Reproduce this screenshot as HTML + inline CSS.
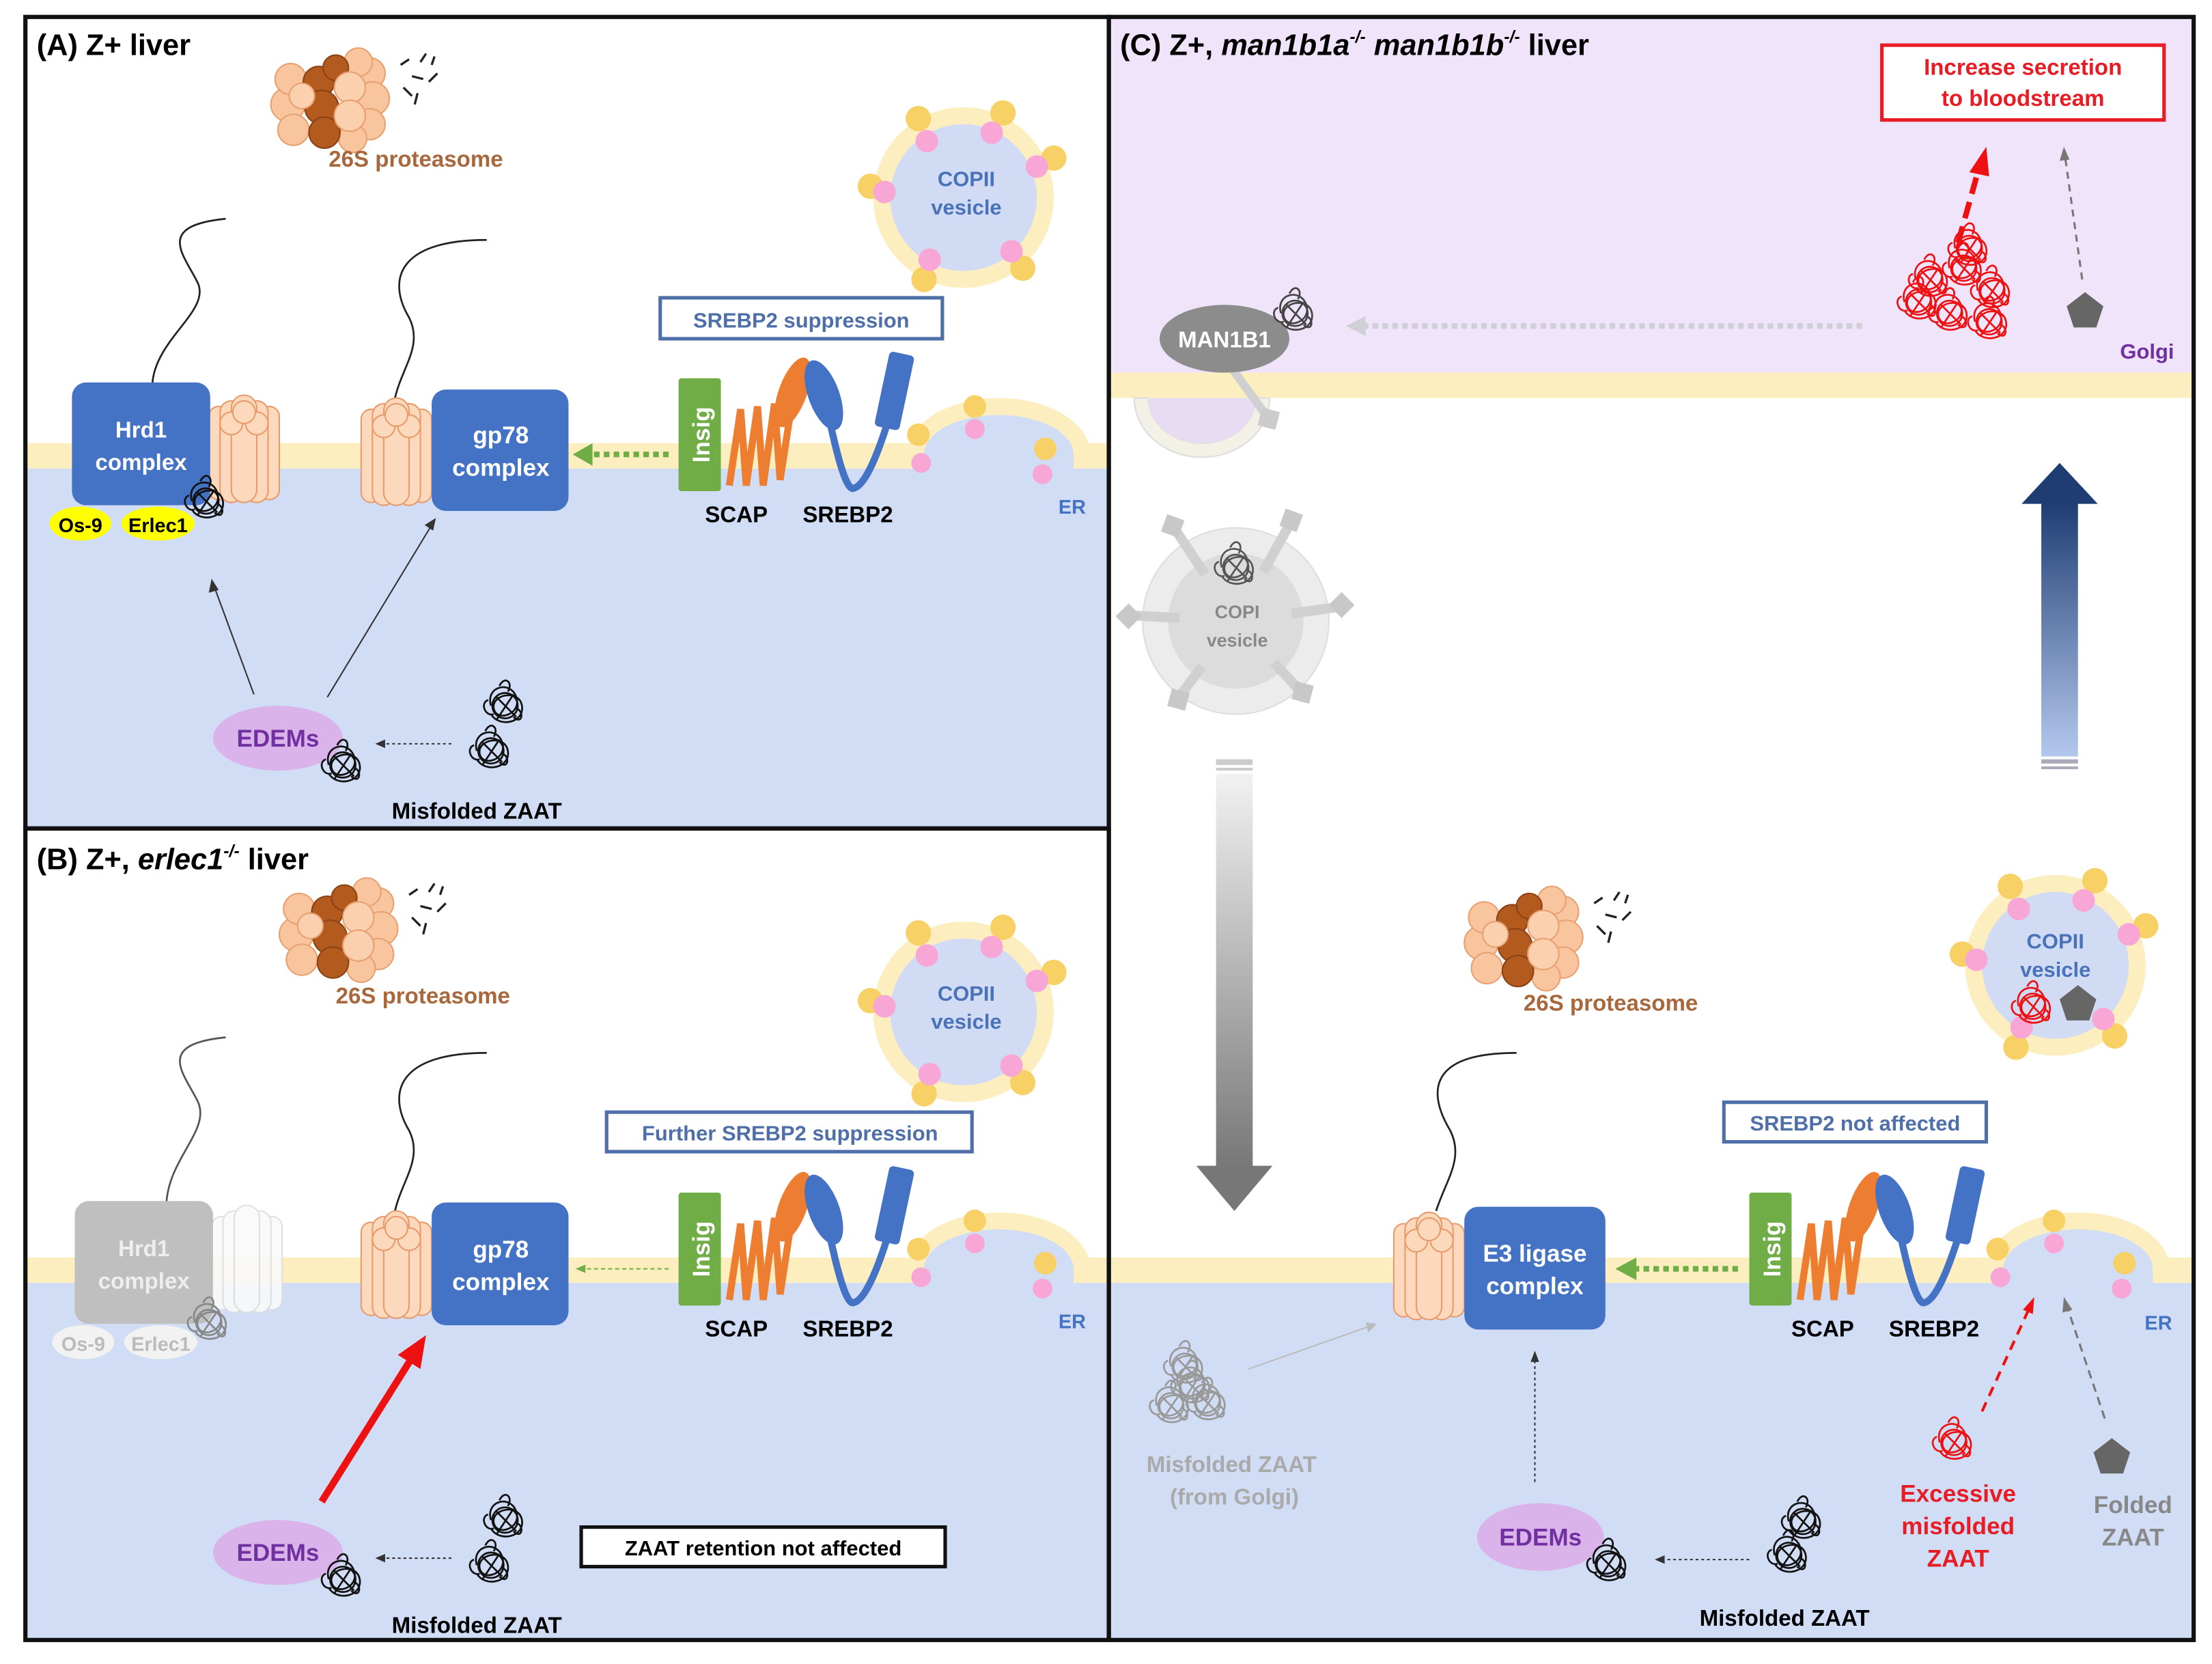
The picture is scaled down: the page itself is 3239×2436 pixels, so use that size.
<!DOCTYPE html>
<html><head><meta charset="utf-8"><style>
html,body{margin:0;padding:0;background:#fff}
svg{display:block}
text{font-family:"Liberation Sans",sans-serif;font-weight:bold}
</style></head><body>
<svg width="3239" height="2436" viewBox="0 0 1568 1179" preserveAspectRatio="none" xmlns="http://www.w3.org/2000/svg">
<defs>
<linearGradient id="gdown" x1="0" y1="0" x2="0" y2="1"><stop offset="0" stop-color="#f2f2f2"/><stop offset="1" stop-color="#777"/></linearGradient>
<linearGradient id="gup" x1="0" y1="0" x2="0" y2="1"><stop offset="0" stop-color="#1f3d73"/><stop offset="1" stop-color="#b4c8ee"/></linearGradient>
<g id="prot">
 <g fill="#f9c59e" stroke="#e8a070" stroke-width="1">
 <circle cx="-30" cy="0" r="12"/><circle cx="-28" cy="-18" r="11"/><circle cx="-26" cy="18" r="11"/>
 <circle cx="28" cy="-22" r="11"/><circle cx="30" cy="-4" r="12"/><circle cx="28" cy="14" r="11"/><circle cx="20" cy="-30" r="10"/><circle cx="16" cy="24" r="10"/>
 </g>
 <g fill="#b35a1f" stroke="#8a4214" stroke-width="1"><circle cx="-8" cy="-16" r="11"/><circle cx="-6" cy="2" r="12"/><circle cx="-4" cy="20" r="11"/><circle cx="4" cy="-26" r="9"/></g>
 <g fill="#fbd0ae" stroke="#e8a070" stroke-width="1"><circle cx="14" cy="-12" r="11"/><circle cx="14" cy="8" r="11"/><circle cx="-20" cy="-6" r="9"/></g>
 <g stroke="#222" stroke-width="1.6" fill="none"><path d="M50 -28 l6 -4 M58 -20 l8 2 M64 -30 l4 -6 M52 -12 l6 6 M70 -16 l6 -6 M62 -8 l-2 8 M72 -28 l2 -6"/></g>
</g>
<g id="tangle" fill="none" stroke-width="1.3">
 <path d="M-10 0 C-14 -14 4 -18 8 -6 C12 6 -6 12 -8 2 C-10 -8 10 -12 12 0 C14 12 -4 16 -10 6 M-4 -14 C0 -22 6 -16 2 -10 M6 8 C12 14 14 4 8 2 M-12 -4 C-18 -2 -14 8 -8 6"/>
 <circle cx="0" cy="0" r="9"/><path d="M-6 -6 L8 8 M6 -8 L-6 10"/>
</g>
<g id="barrel" fill="#fcd9bc" stroke="#e89a6a" stroke-width="1">
 <rect x="0" y="10" width="14" height="66" rx="7"/><rect x="36" y="10" width="14" height="66" rx="7"/>
 <rect x="8" y="6" width="16" height="72" rx="8"/><rect x="26" y="6" width="16" height="72" rx="8"/>
 <rect x="16" y="2" width="18" height="76" rx="9"/>
 <circle cx="16" cy="22" r="8"/><circle cx="34" cy="22" r="8"/><circle cx="25" cy="14" r="8"/>
</g>
<g id="copii">
 <circle r="64" fill="#fdeec0"/><circle r="52" fill="#d1dcf4"/>
 <g fill="#f8d166"><circle cx="-32" cy="-56" r="9"/><circle cx="28" cy="-60" r="9"/><circle cx="64" cy="-28" r="9"/><circle cx="-66" cy="-8" r="9"/><circle cx="-28" cy="58" r="9"/><circle cx="42" cy="50" r="9"/></g>
 <g fill="#f7a6d6"><circle cx="-26" cy="-40" r="8"/><circle cx="20" cy="-46" r="8"/><circle cx="52" cy="-22" r="8"/><circle cx="-56" cy="-4" r="8"/><circle cx="-24" cy="44" r="8"/><circle cx="34" cy="38" r="8"/></g>
</g>
<g id="scapsre">
 <rect x="0" y="0" width="30" height="80" rx="2" fill="#70ad47"/>
 <path d="M36 76 L44 22 L48 76 L56 20 L60 76 L68 18 L72 72 L80 20" fill="none" stroke="#ed7d31" stroke-width="5"/>
 <ellipse cx="81" cy="10" rx="10" ry="26" transform="rotate(20 81 10)" fill="#ed7d31"/>
 <ellipse cx="103" cy="12" rx="11" ry="26" transform="rotate(-20 103 12)" fill="#4472c4"/>
 <path d="M108 34 Q118 80 124 78 Q134 76 148 32" fill="none" stroke="#4472c4" stroke-width="5"/>
 <rect x="144" y="-18" width="18" height="54" rx="3" transform="rotate(12 153 9)" fill="#4472c4"/>
</g>
<g id="bud">
 <path d="M12 11 L12 0 A53 28 0 0 1 118 0 L118 11 Z" fill="#d1ddf5"/>
 <path d="M0 0 A65 40 0 0 1 130 0 L118 0 A53 28 0 0 0 12 0 Z" fill="#fdeec0"/>
 <g fill="#f8d166"><circle cx="8" cy="-14" r="8"/><circle cx="48" cy="-34" r="8"/><circle cx="98" cy="-4" r="8"/></g>
 <g fill="#f7a6d6"><circle cx="10" cy="6" r="7"/><circle cx="48" cy="-18" r="7"/><circle cx="96" cy="14" r="7"/></g>
</g>
<polygon id="pent" points="0,-13 13,-3 8,12 -8,12 -13,-3" fill="#666"/>
</defs>

<rect x="18" y="12" width="768" height="575" fill="#fff"/>
<rect x="18" y="322" width="768" height="265" fill="#d1ddf5"/>
<rect x="18" y="314" width="768" height="18" fill="#fdeec0"/>
<rect x="18" y="587" width="768" height="575" fill="#fff"/>
<rect x="18" y="899" width="768" height="263" fill="#d1ddf5"/>
<rect x="18" y="891" width="768" height="18" fill="#fdeec0"/>
<rect x="786" y="12" width="769" height="1150" fill="#fff"/>
<rect x="786" y="12" width="769" height="255" fill="#f0e4fb"/>
<rect x="786" y="264" width="769" height="18" fill="#fdeec0"/>
<rect x="786" y="899" width="769" height="263" fill="#d1ddf5"/>
<rect x="786" y="891" width="769" height="18" fill="#fdeec0"/>

<!-- ===== Panel A ===== -->
<text x="26" y="39" font-size="21" font-weight="bold">(A) Z+ liver</text>
<use href="#prot" x="234" y="74"/>
<text x="233" y="118" font-size="16" fill="#a8683c">26S proteasome</text>
<use href="#copii" x="683" y="140"/>
<text x="685" y="132" font-size="15" fill="#4a72b8" text-anchor="middle" font-weight="normal">COPII</text>
<text x="685" y="152" font-size="15" fill="#4a72b8" text-anchor="middle" font-weight="normal">vesicle</text>
<rect x="468" y="211" width="200" height="29" fill="#fff" stroke="#4f6fa8" stroke-width="2.5"/>
<text x="568" y="232" font-size="15" fill="#4f6fa8" text-anchor="middle">SREBP2 suppression</text>
<path d="M108 272 C110 240 150 220 140 200 C130 180 110 160 160 155" fill="none" stroke="#222" stroke-width="1.3"/>
<path d="M280 282 C285 260 300 245 290 225 C275 200 280 170 345 170" fill="none" stroke="#222" stroke-width="1.3"/>
<use href="#barrel" x="148" y="278"/>
<rect x="51" y="271" width="98" height="87" rx="10" fill="#4472c4"/>
<text x="100" y="310" font-size="16" fill="#fff" text-anchor="middle">Hrd1</text>
<text x="100" y="333" font-size="16" fill="#fff" text-anchor="middle">complex</text>
<use href="#tangle" x="146" y="355" stroke="#111"/>
<ellipse cx="57" cy="371" rx="22" ry="12" fill="#ffff00"/><text x="57" y="377" font-size="14" text-anchor="middle">Os-9</text>
<ellipse cx="112" cy="371" rx="26" ry="12" fill="#ffff00"/><text x="112" y="377" font-size="14" text-anchor="middle">Erlec1</text>
<use href="#barrel" x="256" y="280"/>
<rect x="306" y="276" width="97" height="86" rx="10" fill="#4472c4"/>
<text x="355" y="314" font-size="17" fill="#fff" text-anchor="middle">gp78</text>
<text x="355" y="337" font-size="17" fill="#fff" text-anchor="middle">complex</text>
<line x1="474" y1="322" x2="420" y2="322" stroke="#70ad47" stroke-width="4" stroke-dasharray="4 3"/>
<polygon points="406,322 420,314 420,330" fill="#70ad47"/>
<use href="#scapsre" x="481" y="268"/>
<text x="497" y="308" font-size="17" fill="#fff" text-anchor="middle" transform="rotate(-90 497 308)" dy="6">Insig</text>
<use href="#bud" x="643" y="322"/>
<text x="522" y="370" font-size="16" text-anchor="middle">SCAP</text>
<text x="601" y="370" font-size="16" text-anchor="middle">SREBP2</text>
<text x="760" y="364" font-size="14" fill="#4472c4" text-anchor="middle" font-weight="normal">ER</text>
<line x1="180" y1="492" x2="152" y2="416" stroke="#333" stroke-width="1"/><polygon points="150,410 148,420 155,418" fill="#333"/>
<line x1="232" y1="494" x2="306" y2="372" stroke="#333" stroke-width="1"/><polygon points="309,367 301,372 307,376" fill="#333"/>
<ellipse cx="197" cy="523" rx="46" ry="23" fill="#d9b3ea"/>
<text x="197" y="529" font-size="17" fill="#7030a0" text-anchor="middle">EDEMs</text>
<use href="#tangle" x="243" y="542" stroke="#111"/>
<use href="#tangle" x="358" y="500" stroke="#111"/>
<use href="#tangle" x="348" y="532" stroke="#111"/>
<line x1="320" y1="527" x2="272" y2="527" stroke="#333" stroke-width="1" stroke-dasharray="2 2"/><polygon points="266,527 273,524 273,530" fill="#333"/>
<text x="338" y="580" font-size="16" text-anchor="middle">Misfolded ZAAT</text>

<!-- ===== Panel B ===== -->
<text x="26" y="616" font-size="21">(B) Z+, <tspan font-style="italic">erlec1</tspan><tspan font-size="12" dy="-9" font-style="italic">-/-</tspan><tspan dy="9"> liver</tspan></text>
<use href="#prot" x="240" y="662"/>
<text x="238" y="711" font-size="16" fill="#a8683c">26S proteasome</text>
<use href="#copii" x="683" y="717"/>
<text x="685" y="709" font-size="15" fill="#4a72b8" text-anchor="middle" font-weight="normal">COPII</text>
<text x="685" y="729" font-size="15" fill="#4a72b8" text-anchor="middle" font-weight="normal">vesicle</text>
<rect x="430" y="788" width="259" height="28" fill="#fff" stroke="#4f6fa8" stroke-width="2.5"/>
<text x="560" y="808" font-size="15" fill="#4f6fa8" text-anchor="middle">Further SREBP2 suppression</text>
<path d="M118 852 C120 820 150 800 140 780 C130 760 110 740 160 735" fill="none" stroke="#555" stroke-width="1.3"/>
<path d="M280 858 C285 836 300 821 290 801 C275 776 280 746 345 746" fill="none" stroke="#222" stroke-width="1.3"/>
<g opacity="0.9"><g fill="#fafafa" stroke="#ddd" stroke-width="1">
 <rect x="150" y="862" width="14" height="66" rx="7"/><rect x="186" y="862" width="14" height="66" rx="7"/><rect x="158" y="858" width="16" height="72" rx="8"/><rect x="176" y="858" width="16" height="72" rx="8"/><rect x="166" y="854" width="18" height="76" rx="9"/></g></g>
<rect x="53" y="851" width="98" height="87" rx="10" fill="#bfbfbf"/>
<text x="102" y="890" font-size="16" fill="#eee" text-anchor="middle">Hrd1</text>
<text x="102" y="913" font-size="16" fill="#eee" text-anchor="middle">complex</text>
<use href="#tangle" x="148" y="937" stroke="#888"/>
<ellipse cx="59" cy="951" rx="22" ry="12" fill="#f2f2f2"/><text x="59" y="957" font-size="14" fill="#bbb" text-anchor="middle" font-weight="normal">Os-9</text>
<ellipse cx="114" cy="951" rx="26" ry="12" fill="#f2f2f2"/><text x="114" y="957" font-size="14" fill="#bbb" text-anchor="middle" font-weight="normal">Erlec1</text>
<use href="#barrel" x="256" y="856"/>
<rect x="306" y="852" width="97" height="87" rx="10" fill="#4472c4"/>
<text x="355" y="891" font-size="17" fill="#fff" text-anchor="middle">gp78</text>
<text x="355" y="914" font-size="17" fill="#fff" text-anchor="middle">complex</text>
<line x1="474" y1="899" x2="414" y2="899" stroke="#70ad47" stroke-width="1" stroke-dasharray="3 2"/>
<polygon points="408,899 415,896 415,902" fill="#70ad47"/>
<use href="#scapsre" x="481" y="845"/>
<text x="497" y="885" font-size="17" fill="#fff" text-anchor="middle" transform="rotate(-90 497 885)" dy="6">Insig</text>
<use href="#bud" x="643" y="899"/>
<text x="522" y="947" font-size="16" text-anchor="middle">SCAP</text>
<text x="601" y="947" font-size="16" text-anchor="middle">SREBP2</text>
<text x="760" y="941" font-size="14" fill="#4472c4" text-anchor="middle" font-weight="normal">ER</text>
<line x1="228" y1="1064" x2="292" y2="962" stroke="#ee1111" stroke-width="5"/>
<polygon points="302,946 282,960 298,970" fill="#ee1111"/>
<ellipse cx="197" cy="1100" rx="46" ry="23" fill="#d9b3ea"/>
<text x="197" y="1106" font-size="17" fill="#7030a0" text-anchor="middle">EDEMs</text>
<use href="#tangle" x="243" y="1119" stroke="#111"/>
<use href="#tangle" x="358" y="1077" stroke="#111"/>
<use href="#tangle" x="348" y="1109" stroke="#111"/>
<line x1="320" y1="1104" x2="272" y2="1104" stroke="#333" stroke-width="1" stroke-dasharray="2 2"/><polygon points="266,1104 273,1101 273,1107" fill="#333"/>
<text x="338" y="1157" font-size="16" text-anchor="middle">Misfolded ZAAT</text>
<rect x="412" y="1082" width="258" height="28" fill="#fff" stroke="#111" stroke-width="2.5"/>
<text x="541" y="1102" font-size="15" text-anchor="middle">ZAAT retention not affected</text>

<!-- ===== Panel C ===== -->
<text x="794" y="39" font-size="21">(C) Z+, <tspan font-style="italic">man1b1a</tspan><tspan font-size="12" dy="-9" font-style="italic">-/-</tspan><tspan dy="9" font-style="italic"> man1b1b</tspan><tspan font-size="12" dy="-9" font-style="italic">-/-</tspan><tspan dy="9"> liver</tspan></text>
<rect x="1334" y="32" width="200" height="53" fill="#fff" stroke="#e81c24" stroke-width="2.5"/>
<text x="1434" y="53" font-size="16" fill="#e81c24" text-anchor="middle">Increase secretion</text>
<text x="1434" y="75" font-size="16" fill="#e81c24" text-anchor="middle">to bloodstream</text>
<line x1="1388" y1="172" x2="1402" y2="122" stroke="#ee1111" stroke-width="4" stroke-dasharray="12 6"/>
<polygon points="1408,104 1396,122 1410,125" fill="#ee1111"/>
<line x1="1476" y1="198" x2="1464" y2="112" stroke="#777" stroke-width="1.5" stroke-dasharray="5 4"/>
<polygon points="1463,104 1460,114 1467,113" fill="#777"/>
<g stroke="#ee1111"><use href="#tangle" x="1368" y="198"/><use href="#tangle" x="1392" y="190"/><use href="#tangle" x="1412" y="206"/><use href="#tangle" x="1382" y="222"/><use href="#tangle" x="1410" y="228"/><use href="#tangle" x="1360" y="214"/><use href="#tangle" x="1396" y="176"/></g>
<use href="#pent" x="1478" y="220"/>
<text x="1522" y="254" font-size="15" fill="#7030a0" text-anchor="middle">Golgi</text>
<line x1="1320" y1="231" x2="968" y2="231" stroke="#cfcfd8" stroke-width="4" stroke-dasharray="4 3"/>
<polygon points="954,231 968,224 968,238" fill="#cfcfd8"/>
<path d="M804 282 A48 42 0 0 0 900 282 L890 282 A38 32 0 0 1 814 282 Z" fill="#f3f0e6" stroke="#ddd" stroke-width="1"/>
<path d="M814 282 A38 32 0 0 0 890 282 Z" fill="#e8dcf5"/>
<line x1="874" y1="262" x2="898" y2="295" stroke="#d0d0d0" stroke-width="6"/>
<rect x="893" y="290" width="13" height="13" fill="#ccc" transform="rotate(15 899 296)"/>
<ellipse cx="868" cy="240" rx="46" ry="24" fill="#8c8c8c"/>
<text x="868" y="246" font-size="16" fill="#fff" text-anchor="middle">MAN1B1</text>
<use href="#tangle" x="918" y="222" stroke="#444"/>
<circle cx="876" cy="440" r="66" fill="#ececec" stroke="#ddd"/>
<circle cx="876" cy="440" r="48" fill="#dcdcdc"/>
<g stroke="#d0d0d0" stroke-width="7"><line x1="876" y1="440" x2="833" y2="375"/><line x1="876" y1="440" x2="915" y2="370"/><line x1="876" y1="440" x2="950" y2="430"/><line x1="876" y1="440" x2="802" y2="436"/><line x1="876" y1="440" x2="835" y2="495"/><line x1="876" y1="440" x2="922" y2="490"/></g>
<circle cx="876" cy="440" r="40" fill="#dcdcdc"/>
<g fill="#c8c8c8"><rect x="825" y="366" width="13" height="13" transform="rotate(20 831 372)"/><rect x="909" y="362" width="13" height="13" transform="rotate(20 915 368)"/><rect x="945" y="422" width="13" height="13" transform="rotate(45 951 428)"/><rect x="794" y="430" width="13" height="13" transform="rotate(45 800 436)"/><rect x="829" y="489" width="13" height="13" transform="rotate(15 835 495)"/><rect x="917" y="484" width="13" height="13" transform="rotate(15 923 490)"/></g>
<use href="#tangle" x="876" y="402" stroke="#555"/>
<text x="877" y="438" font-size="13" fill="#888" text-anchor="middle" font-weight="normal">COPI</text>
<text x="877" y="458" font-size="13" fill="#888" text-anchor="middle" font-weight="normal">vesicle</text>
<rect x="862" y="538" width="26" height="4" fill="#ccc"/><rect x="862" y="544" width="26" height="2" fill="#ccc"/>
<rect x="862" y="548" width="26" height="280" fill="url(#gdown)"/>
<polygon points="848,826 902,826 875,858" fill="#777"/>
<polygon points="1433,357 1487,357 1460,328" fill="#1f3d73"/>
<rect x="1447" y="356" width="26" height="180" fill="url(#gup)"/>
<rect x="1447" y="538" width="26" height="3" fill="#aab"/><rect x="1447" y="543" width="26" height="2" fill="#aab"/>
<use href="#prot" x="1080" y="668"/>
<text x="1080" y="716" font-size="16" fill="#a8683c">26S proteasome</text>
<use href="#copii" x="1457" y="684"/>
<text x="1457" y="672" font-size="15" fill="#4a72b8" text-anchor="middle" font-weight="normal">COPII</text>
<text x="1457" y="692" font-size="15" fill="#4a72b8" text-anchor="middle" font-weight="normal">vesicle</text>
<use href="#tangle" x="1441" y="713" stroke="#ee1111"/>
<use href="#pent" x="1473" y="711"/>
<rect x="1222" y="781" width="186" height="28" fill="#fff" stroke="#4f6fa8" stroke-width="2.5"/>
<text x="1315" y="801" font-size="15" fill="#4f6fa8" text-anchor="middle">SREBP2 not affected</text>
<path d="M1018 858 C1025 836 1038 821 1028 801 C1013 776 1010 746 1075 746" fill="none" stroke="#222" stroke-width="1.3"/>
<use href="#barrel" x="988" y="857"/>
<rect x="1038" y="855" width="100" height="87" rx="10" fill="#4472c4"/>
<text x="1088" y="894" font-size="17" fill="#fff" text-anchor="middle">E3 ligase</text>
<text x="1088" y="917" font-size="17" fill="#fff" text-anchor="middle">complex</text>
<line x1="1232" y1="899" x2="1160" y2="899" stroke="#70ad47" stroke-width="4" stroke-dasharray="4 3"/>
<polygon points="1145,899 1160,891 1160,907" fill="#70ad47"/>
<use href="#scapsre" x="1240" y="845"/>
<text x="1256" y="885" font-size="17" fill="#fff" text-anchor="middle" transform="rotate(-90 1256 885)" dy="6">Insig</text>
<use href="#bud" x="1408" y="899"/>
<text x="1292" y="947" font-size="16" text-anchor="middle">SCAP</text>
<text x="1371" y="947" font-size="16" text-anchor="middle">SREBP2</text>
<text x="1530" y="942" font-size="14" fill="#4472c4" text-anchor="middle" font-weight="normal">ER</text>
<g stroke="#999"><use href="#tangle" x="840" y="968"/><use href="#tangle" x="830" y="996"/><use href="#tangle" x="856" y="994"/><use href="#tangle" x="845" y="982"/></g>
<line x1="885" y1="970" x2="970" y2="940" stroke="#bbb" stroke-width="1"/><polygon points="976,938 968,937 970,944" fill="#bbb"/>
<text x="873" y="1043" font-size="16" fill="#aaa" text-anchor="middle" font-weight="normal">Misfolded ZAAT</text>
<text x="875" y="1066" font-size="16" fill="#aaa" text-anchor="middle" font-weight="normal">(from Golgi)</text>
<line x1="1088" y1="1050" x2="1088" y2="964" stroke="#333" stroke-width="1" stroke-dasharray="2 2"/><polygon points="1088,957 1085,965 1091,965" fill="#333"/>
<ellipse cx="1092" cy="1089" rx="45" ry="24" fill="#d9b3ea"/>
<text x="1092" y="1095" font-size="17" fill="#7030a0" text-anchor="middle">EDEMs</text>
<use href="#tangle" x="1140" y="1108" stroke="#111"/>
<use href="#tangle" x="1278" y="1078" stroke="#111"/>
<use href="#tangle" x="1268" y="1102" stroke="#111"/>
<line x1="1240" y1="1105" x2="1180" y2="1105" stroke="#333" stroke-width="1" stroke-dasharray="2 2"/><polygon points="1173,1105 1180,1102 1180,1108" fill="#333"/>
<text x="1265" y="1152" font-size="16" text-anchor="middle">Misfolded ZAAT</text>
<use href="#tangle" x="1385" y="1022" stroke="#ee1111"/>
<line x1="1405" y1="1000" x2="1438" y2="928" stroke="#ee1111" stroke-width="2" stroke-dasharray="7 5"/><polygon points="1442,919 1434,928 1441,931" fill="#ee1111"/>
<text x="1388" y="1064" font-size="17" fill="#e81c24" text-anchor="middle">Excessive</text>
<text x="1388" y="1087" font-size="17" fill="#e81c24" text-anchor="middle">misfolded</text>
<text x="1388" y="1110" font-size="17" fill="#e81c24" text-anchor="middle">ZAAT</text>
<line x1="1492" y1="1005" x2="1466" y2="928" stroke="#777" stroke-width="1.5" stroke-dasharray="6 4"/><polygon points="1463,919 1462,930 1469,928" fill="#777"/>
<use href="#pent" x="1497" y="1032"/>
<text x="1512" y="1072" font-size="17" fill="#888" text-anchor="middle" font-weight="normal">Folded</text>
<text x="1512" y="1095" font-size="17" fill="#888" text-anchor="middle" font-weight="normal">ZAAT</text>

<rect x="18" y="12" width="768" height="575" fill="none" stroke="#111" stroke-width="3"/>
<rect x="18" y="587" width="768" height="575" fill="none" stroke="#111" stroke-width="3"/>
<rect x="786" y="12" width="769" height="1150" fill="none" stroke="#111" stroke-width="3"/>
</svg>
</body></html>
